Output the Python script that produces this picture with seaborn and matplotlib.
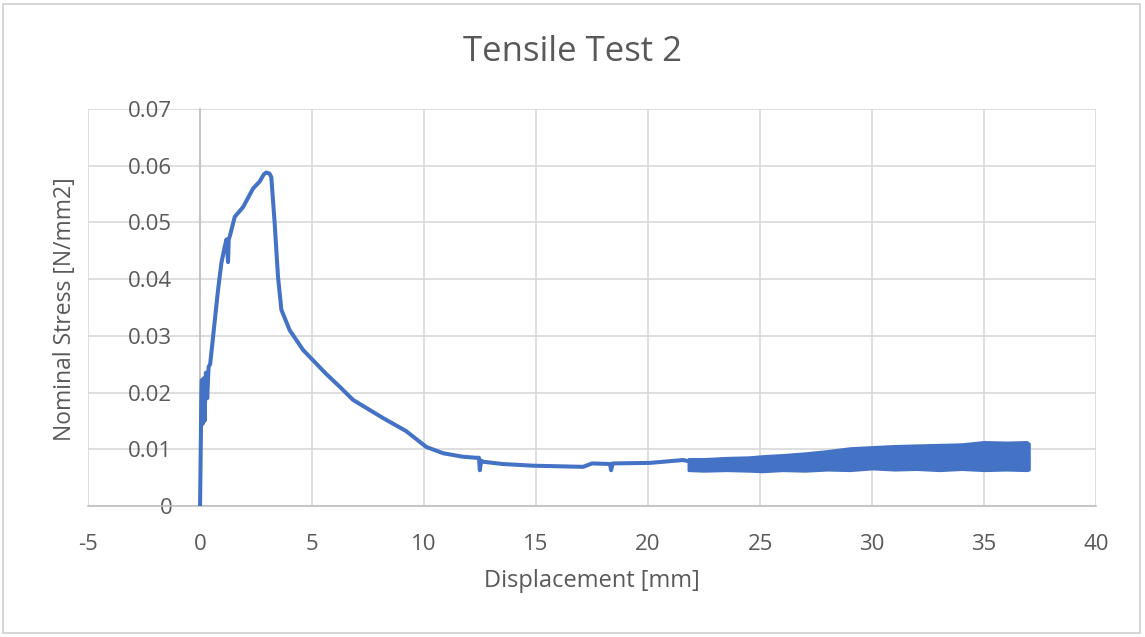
import matplotlib
matplotlib.use("Agg")
import matplotlib.pyplot as plt
import seaborn as sns
import pandas as pd
from matplotlib.patches import Rectangle

# Values

disp = [0.0, 0.03, 0.06, 0.08, 0.12, 0.16, 0.20, 0.26, 0.32, 0.38, 0.45, 0.58,
        0.80, 0.95, 1.10, 1.18, 1.25, 1.28, 1.33, 1.55, 1.92, 2.37, 2.66, 2.85,
        2.96, 3.10, 3.18, 3.33, 3.48, 3.63, 4.0, 4.6, 5.04, 5.6, 6.24, 6.83,
        8.17, 9.2, 10.1, 10.85, 11.7, 12.3, 12.45, 12.49, 12.55, 12.63, 13.5,
        14.87, 17.1, 17.5, 18.3, 18.35, 18.42, 20.1, 21.56, 21.8]
stress = [0.0, 0.010, 0.020, 0.0222, 0.0145, 0.0225, 0.0150, 0.0235, 0.0190,
          0.0245, 0.0250, 0.0298, 0.0380, 0.0428, 0.0457, 0.0470, 0.0430,
          0.0470, 0.0476, 0.0510, 0.0527, 0.0560, 0.0572, 0.0585, 0.0588,
          0.0586, 0.0580, 0.0499, 0.0404, 0.0346, 0.0310, 0.0275, 0.0257,
          0.0234, 0.0210, 0.0187, 0.0155, 0.0132, 0.0104, 0.0093, 0.0087,
          0.0085, 0.0085, 0.0063, 0.0080, 0.0078, 0.0074, 0.0071, 0.0069,
          0.0075, 0.0074, 0.0063, 0.0075, 0.0076, 0.0081, 0.0079]

# noisy tail from ~21.8 mm on, given as lower / upper envelope
band_x = [21.8, 22.5, 23.5, 24.5, 25.1, 26.0, 27.0, 28.0, 29.0, 30.0, 31.0,
          32.0, 33.0, 34.0, 35.0, 36.0, 36.9, 37.0]
band_lo = [0.0063, 0.0062, 0.0063, 0.0062, 0.0061, 0.0063, 0.0062, 0.0064,
           0.0063, 0.0066, 0.0064, 0.0065, 0.0063, 0.0065, 0.0063, 0.0064,
           0.0063, 0.0064]
band_hi = [0.0083, 0.0083, 0.0085, 0.0086, 0.0088, 0.0090, 0.0093, 0.0097,
           0.0102, 0.0104, 0.0106, 0.0107, 0.0108, 0.0109, 0.0113, 0.0112,
           0.0113, 0.0110]

blue = "#4472C4"
grey_txt = "#595959"

sns.set_theme(style="white")
plt.rcParams['font.family'] = ['Open Sans', 'DejaVu Sans']
plt.rcParams['axes.unicode_minus'] = False

df = pd.DataFrame({"disp": disp, "stress": stress})

fig = plt.figure(figsize=(11.45, 6.37), dpi=100)
ax = fig.add_axes([0.0769, 0.2057, 0.8804, 0.6232])

sns.lineplot(data=df, x="disp", y="stress", sort=False, estimator=None,
             color=blue, linewidth=2.9, ax=ax, zorder=3)
ax.fill_between(band_x, band_lo, band_hi, color=blue, linewidth=2,
                edgecolor=blue, zorder=3)

ax.set_xlim(-5, 40)
ax.set_ylim(0, 0.07)
ax.set_xticks(range(-5, 41, 5))
ax.set_yticks([0, 0.01, 0.02, 0.03, 0.04, 0.05, 0.06, 0.07])
ax.set_yticklabels(["0", "0.01", "0.02", "0.03", "0.04", "0.05", "0.06", "0.07"])
ax.grid(True, color="#D9D9D9", linewidth=1.2)
ax.set_axisbelow(True)

for s in ["top", "right"]:
    ax.spines[s].set_visible(False)
ax.spines["left"].set_position(("data", 0))
ax.spines["left"].set_color("#BFBFBF")
ax.spines["bottom"].set_color("#BFBFBF")
ax.spines["left"].set_linewidth(1.2)
ax.spines["bottom"].set_linewidth(1.2)

ax.tick_params(axis="both", length=0, labelsize=16, colors=grey_txt)
ax.tick_params(axis="y", pad=20)
ax.tick_params(axis="x", pad=20)

ax.set_xlabel("Displacement [mm]", fontsize=17, color=grey_txt, labelpad=10)
ax.set_ylabel("")
fig.text(0.057, 0.515, "Nominal Stress [N/mm2]", rotation=90, fontsize=16.5,
         color=grey_txt, ha="center", va="center")
fig.text(0.5, 0.918, "Tensile Test 2", fontsize=25, color=grey_txt,
         ha="center", va="center")

fig.patches.append(Rectangle((0.003, 0.006), 0.993, 0.988, transform=fig.transFigure,
                             fill=False, edgecolor="#D0D0D0", linewidth=1.2))

fig.savefig("out.png", dpi=100)
